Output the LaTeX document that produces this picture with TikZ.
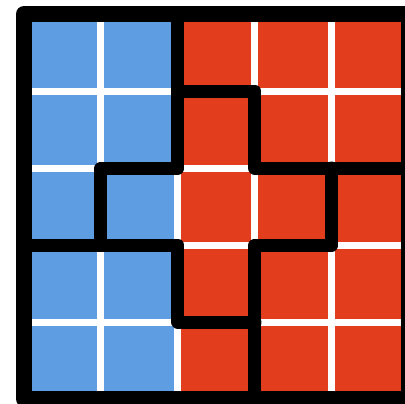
\documentclass[tikz,border=0pt]{standalone}
\definecolor{cellblue}{RGB}{94,157,226}
\definecolor{cellred}{RGB}{226,62,30}

\begin{document}
\begin{tikzpicture}[x=0.75pt,y=0.75pt,yscale=-1,xscale=1,
  gridline/.style={draw=white,line width=5.25pt},
  wall/.style={draw=black,line width=9.75pt,line join=round,line cap=round},
  frame/.style={draw=black,line width=12pt,line join=round}]
\useasboundingbox (0,0) rectangle (405,404);
\clip (0,0) rectangle (405,404);

%Shape: Rectangle [id:blue] 
\fill [cellblue] (24,14) rectangle (178,399) ;
%Shape: Rectangle [id:red] 
\fill [cellred] (178,14) rectangle (409,399) ;

%Grid Lines
\foreach \gx in {101,178,255,332} {
  \draw [gridline] (\gx,14) -- (\gx,399) ;
}
\foreach \gy in {91,168,245,322} {
  \draw [gridline] (24,\gy) -- (409,\gy) ;
}

%Straight Lines [id:top piece] 
\draw [wall] (178,14) -- (178,168) -- (101,168) -- (101,245) ;
\draw [wall] (178,91) -- (255,91) -- (255,168) -- (409,168) ;
%Straight Lines [id:middle piece] 
\draw [wall] (24,245) -- (178,245) -- (178,322) -- (255,322) ;
\draw [wall] (332,168) -- (332,245) -- (255,245) -- (255,399) ;

%Shape: Square [id:frame] 
\draw [frame] (24,14) -- (409,14) -- (409,399) -- (24,399) -- cycle ;

\end{tikzpicture}
\end{document}
